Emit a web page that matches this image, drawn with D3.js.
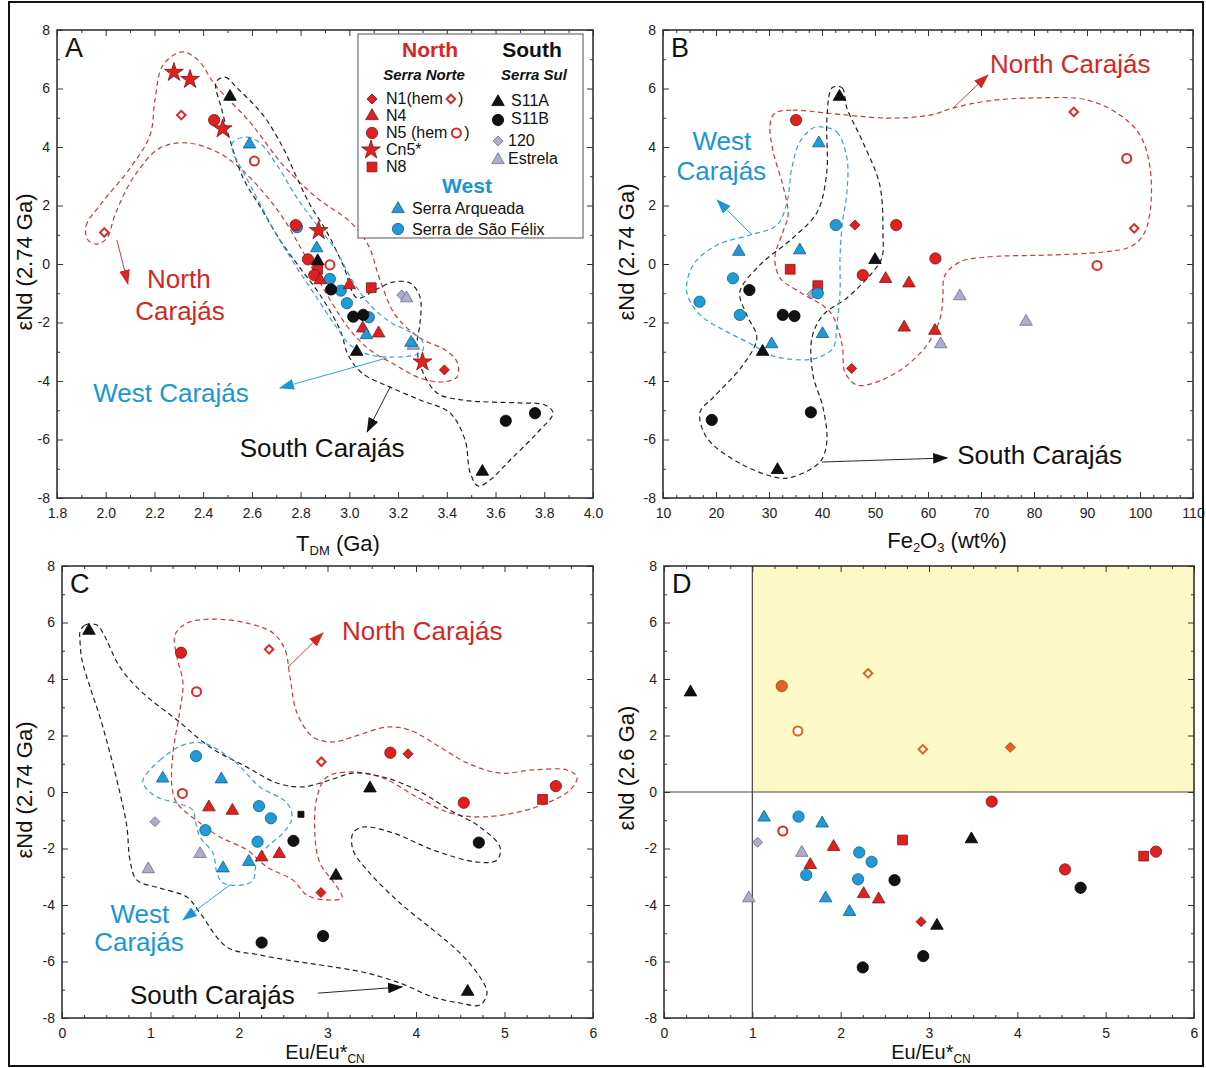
<!DOCTYPE html>
<html><head><meta charset="utf-8">
<script src="https://cdn.jsdelivr.net/npm/d3@7"></script>
<style>
body{margin:0;background:#fff}
svg{display:block}
text{font-family:"Liberation Sans",Arial,sans-serif}
</style>
</head><body>
<svg id="c" width="1206" height="1068"></svg>
<script>
// ---------------- DATA ----------------
// tick labels
const A_XTICKS=[1.8,2.0,2.2,2.4,2.6,2.8,3.0,3.2,3.4,3.6,3.8,4.0];
const B_XTICKS=[10,20,30,40,50,60,70,80,90,100,110];
const EU_XTICKS=[0,1,2,3,4,5,6];
const EPS_TICKS=[-8,-6,-4,-2,0,2,4,6,8];

// Panel A: eNd(2.74 Ga) vs TDM (Ga)
const A_N1=[[3.39,-3.62]];
const A_N1hem=[[2.31,5.09],[1.994,1.08]];
const A_N4=[[2.88,-0.55],[3.00,-0.72],[3.055,-2.20],[3.12,-2.37]];
const A_N5=[[2.445,4.92],[2.78,1.33],[2.83,0.16],[2.856,-0.38]];
const A_N5hem=[[2.61,3.52],[2.92,-0.03]];
const A_Cn5=[[2.28,6.55],[2.346,6.31],[2.48,4.62],[2.874,1.14],[3.30,-3.35]];
const A_N8=[[2.87,-0.18],[3.09,-0.81]];
const A_S11A=[[2.51,5.72],[2.87,0.10],[3.03,-3.0],[3.546,-7.1]];
const A_S11B=[[2.925,-0.87],[3.016,-1.80],[3.057,-1.74],[3.642,-5.36],[3.762,-5.10]];
const A_120=[[3.215,-1.06]];
const A_Estrela=[[3.235,-1.17],[3.263,-2.79]];
const A_SA=[[2.59,4.09],[2.866,0.54],[3.07,-2.43],[3.253,-2.69]];
const A_SSF=[[2.785,1.26],[2.92,-0.51],[2.965,-0.91],[2.99,-1.34],[3.08,-1.82]];
const A_envNorth=[[1.927,0.82],[1.919,1.30],[1.977,2.02],[2.10,3.28],[2.182,4.41],[2.202,5.61],[2.235,6.80],[2.313,7.25],[2.379,6.97],[2.449,6.12],[2.592,4.85],[2.728,3.38],[2.867,2.26],[3.003,1.44],[3.077,0.65],[3.126,-0.55],[3.188,-1.74],[3.29,-2.53],[3.393,-2.94],[3.442,-3.35],[3.442,-3.86],[3.385,-4.03],[3.29,-3.90],[3.188,-3.45],[3.085,-2.94],[3.003,-2.26],[2.921,-1.23],[2.81,0.41],[2.728,1.57],[2.646,2.46],[2.551,3.28],[2.457,3.83],[2.334,4.14],[2.223,3.97],[2.112,2.94],[2.038,1.68],[2.005,0.89],[1.964,0.68]];
const A_envSouth=[[2.453,6.22],[2.49,6.39],[2.539,6.02],[2.646,5.09],[2.728,3.97],[2.785,2.94],[2.839,2.02],[2.908,1.09],[2.974,-0.03],[3.032,-1.16],[3.105,-0.89],[3.179,-0.62],[3.249,-0.65],[3.29,-1.13],[3.29,-2.02],[3.278,-2.70],[3.29,-3.45],[3.36,-4.41],[3.467,-4.65],[3.578,-4.72],[3.70,-4.75],[3.803,-4.82],[3.836,-5.09],[3.77,-5.78],[3.66,-6.70],[3.578,-7.38],[3.528,-7.59],[3.495,-7.11],[3.475,-6.02],[3.413,-5.09],[3.29,-4.65],[3.167,-4.21],[3.052,-3.73],[2.995,-3.11],[2.962,-2.26],[2.88,-1.06],[2.798,-0.14],[2.715,0.82],[2.642,1.85],[2.564,2.94],[2.51,4.24],[2.477,5.26]];
const A_envWest=[[2.522,4.17],[2.58,4.34],[2.633,4.14],[2.703,3.38],[2.785,2.26],[2.867,1.33],[2.949,0.41],[3.011,-0.55],[3.085,-1.40],[3.167,-1.98],[3.249,-2.32],[3.298,-2.60],[3.302,-2.94],[3.27,-3.11],[3.188,-3.18],[3.085,-3.11],[3.003,-2.77],[2.941,-2.09],[2.859,-1.06],[2.777,-0.03],[2.695,1.09],[2.625,2.19],[2.564,3.15],[2.522,3.83]];

// Panel B: eNd(2.74 Ga) vs Fe2O3 (wt%)
const B_N1=[[46.2,1.33],[45.6,-3.57]];
const B_N1hem=[[87.5,5.2],[98.9,1.22]];
const B_N4=[[52.0,-0.51],[56.4,-0.66],[55.5,-2.17],[61.3,-2.28]];
const B_N5=[[35.1,4.92],[54.0,1.33],[61.4,0.19],[47.7,-0.38]];
const B_N5hem=[[97.5,3.61],[91.9,-0.05]];
const B_N8=[[34.0,-0.18],[39.2,-0.74]];
const B_S11A=[[43.3,5.72],[50.0,0.14],[28.8,-3.0],[31.6,-7.04]];
const B_S11B=[[26.3,-0.89],[32.6,-1.74],[34.8,-1.78],[37.9,-5.07],[19.2,-5.33]];
const B_120=[[38.1,-1.03]];
const B_Estrela=[[66.0,-1.1],[78.5,-1.97],[62.4,-2.74]];
const B_SA=[[39.4,4.13],[24.3,0.42],[35.8,0.47],[40.1,-2.39],[30.5,-2.74]];
const B_SSF=[[42.6,1.33],[23.2,-0.49],[39.2,-1.0],[16.9,-1.29],[24.5,-1.74]];
const B_envNorth=[[31.1,5.16],[34.5,5.26],[40.9,5.16],[52.3,4.99],[60.4,5.09],[64.7,5.33],[71.1,5.57],[80.6,5.68],[90.0,5.61],[96.2,5.09],[100.0,4.41],[101.9,3.28],[101.9,1.78],[100.6,0.99],[98.1,0.58],[93.0,0.41],[83.6,0.31],[71.1,0.24],[66.0,0.07],[63.2,-0.38],[62.8,-1.16],[62.3,-1.85],[59.8,-2.77],[55.3,-3.56],[50.4,-4.03],[46.6,-4.14],[44.3,-3.69],[43.8,-2.77],[41.5,-1.64],[35.8,-0.96],[32.1,-0.48],[31.1,0.21],[32.6,1.09],[33.6,1.68],[32.6,2.70],[30.8,3.83],[30.2,4.75]];
const B_envWest=[[40.2,4.68],[42.8,4.51],[44.7,3.62],[44.7,2.46],[43.8,1.33],[43.4,0.21],[43.4,-0.96],[42.8,-2.09],[42.1,-2.87],[39.1,-3.21],[35.8,-3.28],[30.2,-3.11],[27.0,-2.77],[22.1,-2.32],[17.0,-1.74],[14.5,-0.96],[15.7,-0.03],[20.2,0.65],[26.4,0.99],[31.5,1.33],[33.4,2.12],[34.3,3.28],[35.8,4.17],[38.3,4.65]];
const B_envSouth=[[42.1,6.05],[43.8,6.02],[44.7,5.33],[47.7,4.17],[50.9,2.70],[51.5,1.09],[51.3,0.21],[49.6,-0.27],[44.7,-1.16],[40.2,-1.74],[38.1,-2.53],[38.3,-3.79],[40.2,-4.92],[40.9,-6.09],[39.6,-6.77],[34.5,-7.28],[32.1,-7.32],[25.1,-6.87],[18.3,-5.95],[17.0,-5.06],[19.4,-4.58],[25.1,-3.45],[27.7,-2.53],[25.8,-1.74],[24.5,-0.96],[28.3,-0.03],[34.5,0.89],[39.1,1.78],[40.9,3.15],[40.9,4.85],[41.5,5.88]];

// Panel C: eNd(2.74 Ga) vs Eu/Eu*CN
const C_N1=[[3.91,1.35],[2.926,-3.56]];
const C_N1hem=[[2.34,5.05],[2.93,1.07]];
const C_N4=[[1.66,-0.54],[1.925,-0.66],[2.256,-2.31],[2.455,-2.19]];
const C_N5=[[1.345,4.93],[3.71,1.39],[5.58,0.21],[4.54,-0.38]];
const C_N5hem=[[1.52,3.55],[1.36,-0.05]];
const C_N8=[[5.43,-0.26]];
const C_S11A=[[0.305,5.71],[3.48,0.13],[3.096,-2.96],[4.584,-7.07]];
const C_S11B=[[2.615,-1.73],[4.71,-1.79],[2.256,-5.33],[2.95,-5.1]];
const C_other=[[2.70,-0.79]];
const C_120=[[1.05,-1.05]];
const C_Estrela=[[1.56,-2.19],[0.975,-2.73]];
const C_SA=[[1.138,0.48],[1.80,0.45],[2.11,-2.47],[1.82,-2.70]];
const C_SSF=[[1.514,1.27],[2.226,-0.5],[2.36,-0.93],[1.62,-1.35],[2.21,-1.76]];
const C_envNorth=[[1.277,5.56],[1.412,5.98],[1.706,6.12],[2.09,5.98],[2.384,5.63],[2.52,5.03],[2.576,4.07],[2.655,2.80],[2.836,1.95],[3.062,1.77],[3.288,1.95],[3.672,2.30],[3.932,2.19],[4.271,1.59],[4.576,1.03],[4.949,0.67],[5.322,0.78],[5.706,0.78],[5.819,0.53],[5.74,0.07],[5.322,-0.57],[4.757,-0.88],[4.384,-0.74],[4.011,-0.18],[3.627,0.50],[3.288,0.71],[2.994,0.53],[2.881,-0.18],[2.859,-1.59],[2.915,-2.51],[3.107,-3.36],[3.164,-3.75],[2.994,-3.82],[2.768,-3.65],[2.61,-3.12],[2.316,-2.65],[2.09,-2.05],[1.785,-1.59],[1.559,-1.10],[1.299,-0.39],[1.243,0.18],[1.254,1.38],[1.333,2.90],[1.367,3.86],[1.299,4.78]];
const C_envWest=[[0.915,0.42],[1.107,1.13],[1.367,1.66],[1.593,1.73],[1.932,1.13],[2.237,0.18],[2.542,-0.39],[2.599,-0.92],[2.497,-1.45],[2.316,-1.95],[2.203,-2.41],[2.158,-3.12],[2.045,-3.29],[1.819,-3.22],[1.751,-2.87],[1.706,-2.16],[1.559,-1.59],[1.503,-0.99],[1.48,-0.64],[1.299,-0.39],[1.073,-0.18],[0.938,0.18]];
const C_envSouth=[[0.203,5.66],[0.26,5.91],[0.395,5.91],[0.463,5.63],[0.655,4.42],[0.915,3.50],[1.299,2.55],[1.672,1.59],[2.09,0.88],[2.429,0.32],[2.723,0.18],[3.062,0.46],[3.288,0.67],[3.627,0.53],[4.011,0.07],[4.384,-0.64],[4.723,-1.24],[4.949,-1.95],[4.915,-2.41],[4.689,-2.48],[4.192,-2.05],[3.74,-1.45],[3.401,-1.24],[3.288,-1.45],[3.288,-2.05],[3.446,-2.76],[3.819,-3.93],[4.192,-4.88],[4.497,-5.70],[4.723,-6.55],[4.802,-7.12],[4.723,-7.54],[4.497,-7.47],[4.192,-7.26],[3.819,-6.76],[3.446,-6.41],[3.062,-6.19],[2.689,-6.02],[2.237,-5.77],[1.864,-5.49],[1.559,-4.28],[1.412,-3.72],[1.107,-3.40],[0.847,-3.12],[0.768,-2.41],[0.734,-1.24],[0.655,-0.04],[0.542,1.38],[0.429,2.65],[0.316,3.72],[0.226,4.67],[0.203,5.38]];

// Panel D: eNd(2.6 Ga) vs Eu/Eu*CN
const D_N1=[[2.91,-4.59]];
const D_N1orange=[[3.92,1.58]];
const D_N1hemOrange=[[2.31,4.2],[2.93,1.51]];
const D_N4=[[1.92,-1.94],[1.656,-2.58],[2.26,-3.61],[2.43,-3.80]];
const D_N5=[[3.71,-0.34],[5.57,-2.11],[4.54,-2.74]];
const D_N5orange=[[1.333,3.75]];
const D_N5hemOrange=[[1.515,2.16]];
const D_N5hem=[[1.345,-1.38]];
const D_N8=[[2.70,-1.70],[5.43,-2.27]];
const D_S11A=[[0.30,3.53],[3.48,-1.67],[3.09,-4.73]];
const D_S11B=[[2.61,-3.12],[4.716,-3.39],[2.935,-5.81],[2.25,-6.21]];
const D_120=[[1.06,-1.78]];
const D_Estrela=[[1.56,-2.15],[0.96,-3.76]];
const D_SA=[[1.133,-0.90],[1.79,-1.11],[1.83,-3.76],[2.10,-4.24]];
const D_SSF=[[1.523,-0.87],[2.21,-2.14],[2.35,-2.47],[1.61,-2.94],[2.197,-3.09]];
const D_field=[[1,0],[6,8]];

// ---------------- DRAWING ----------------
const svg=d3.select('#c');
const defs=svg.append('defs');
const COL={red:'#d42626',blue:'#1b95d3',black:'#111'};
const ENV={red:'#c43c3c',blue:'#38a0d2',black:'#222'};
Object.keys(COL).forEach(k=>{
  defs.append('marker').attr('id','ah-'+k).attr('viewBox','0 0 14 10').attr('refX',13).attr('refY',5)
    .attr('markerWidth',15).attr('markerHeight',11).attr('markerUnits','userSpaceOnUse').attr('orient','auto')
    .append('path').attr('d','M0,0L14,5L0,10Z').attr('fill',COL[k]);
});

const ST={
  red:{fill:'#e0201f',stroke:'#7a1616',sw:0.8},
  redOpen:{fill:'#fff',stroke:'#d92b2b',sw:2},
  black:{fill:'#111',stroke:'#000',sw:0.8},
  blue:{fill:'#1f9bd7',stroke:'#175c82',sw:0.8},
  gray:{fill:'#adadca',stroke:'#6e6e8c',sw:0.8},
  orange:{fill:'#e2621f',stroke:'#a8420f',sw:0.8},
  orangeOpen:{fill:'#fff',stroke:'#e2621f',sw:2}
};
const SH={
  circle:[d3.symbolCircle,100,0], circleOpen:[d3.symbolCircle,64,0],
  triangle:[d3.symbolTriangle,68,0], diamond:[d3.symbolSquare,50,45],
  diamondOpen:[d3.symbolSquare,36,45], square:[d3.symbolSquare,95,0],
  star:[d3.symbolStar,110,0], smallsquare:[d3.symbolSquare,36,0]
};
function drawSym(g,shape,style,px,py){
  const s=SH[shape], st=ST[style];
  g.append('path').attr('d',d3.symbol().type(s[0]).size(s[1])())
   .attr('transform',`translate(${px},${py}) rotate(${s[2]})`)
   .attr('fill',st.fill).attr('stroke',st.stroke).attr('stroke-width',st.sw);
}

function panel(p){
  const x=d3.scaleLinear().domain(p.xdom).range([p.L,p.R]);
  const y=d3.scaleLinear().domain([-8,8]).range([p.B,p.T]);
  const g=svg.append('g');
  if(p.field){
    const f=p.field;
    g.append('rect').attr('x',x(f[0][0])).attr('y',y(f[1][1])).attr('width',x(f[1][0])-x(f[0][0]))
     .attr('height',y(f[0][1])-y(f[1][1])).attr('fill','#fcf9c6');
    g.append('line').attr('x1',x(f[0][0])).attr('x2',x(f[0][0])).attr('y1',y(-8)).attr('y2',y(8)).attr('stroke','#444').attr('stroke-width',1.2);
    g.append('line').attr('x1',x(p.xdom[0])).attr('x2',x(p.xdom[1])).attr('y1',y(f[0][1])).attr('y2',y(f[0][1])).attr('stroke','#444').attr('stroke-width',1.2);
  }
  const line=d3.line().x(d=>x(d[0])).y(d=>y(d[1])).curve(d3.curveCatmullRomClosed.alpha(0.5));
  (p.env||[]).forEach(e=>{
    g.append('path').attr('d',line(e[0])).attr('fill','none').attr('stroke',ENV[e[1]])
     .attr('stroke-width',1.2).attr('stroke-dasharray','5,3.5');
  });
  (p.arrows||[]).forEach(a=>{
    g.append('line').attr('x1',x(a[0][0][0])).attr('y1',y(a[0][0][1])).attr('x2',x(a[0][1][0])).attr('y2',y(a[0][1][1]))
     .attr('stroke',COL[a[1]]).attr('stroke-width',0.9).attr('marker-end',`url(#ah-${a[1]})`);
  });
  (p.labels||[]).forEach(l=>{
    g.append('text').attr('x',x(l.at[0])).attr('y',y(l.at[1])).attr('text-anchor',l.anchor)
     .attr('font-size',26).attr('fill',COL[l.c]).text(l.t);
  });
  p.series.forEach(s=>{
    s[0].forEach(d=>drawSym(g,s[1],s[2],x(d[0]),y(d[1])));
  });
  // axes (ticks inward on all sides)
  function ax(gen,tr,vals,size,fmt){
    const a=g.append('g').attr('transform',tr)
      .call(gen.tickValues(vals).tickSize(size).tickPadding(fmt?p.pad:0).tickFormat(fmt||(()=>'')));
    a.select('.domain').remove();
    a.selectAll('line').attr('stroke','#333').attr('stroke-width',1);
    a.attr('font-size',14).attr('font-family','"Liberation Sans",Arial,sans-serif');
    a.selectAll('text').attr('fill','#222');
    return a;
  }
  ax(d3.axisBottom(x),`translate(0,${p.B})`,p.xt,-6,p.fmt);
  ax(d3.axisBottom(x),`translate(0,${p.B})`,p.xminor,-3,null);
  ax(d3.axisTop(x),`translate(0,${p.T})`,p.xt,-6,null);
  ax(d3.axisTop(x),`translate(0,${p.T})`,p.xminor,-3,null);
  const yl=ax(d3.axisLeft(y),`translate(${p.L},0)`,EPS_TICKS,-6,d=>String(d));
  yl.selectAll('text').attr('x',-7);
  ax(d3.axisLeft(y),`translate(${p.L},0)`,p.yminor,-3,null);
  ax(d3.axisRight(y),`translate(${p.R},0)`,EPS_TICKS,-6,null);
  ax(d3.axisRight(y),`translate(${p.R},0)`,p.yminor,-3,null);
  g.append('rect').attr('x',p.L).attr('y',p.T).attr('width',p.R-p.L).attr('height',p.B-p.T)
   .attr('fill','none').attr('stroke','#333').attr('stroke-width',1.6);
  g.append('text').attr('x',p.L+8).attr('y',p.T+27).attr('font-size',27).attr('fill','#111').text(p.id);
  // titles
  const fs=p.xtitle[3]||22;
  const xt=g.append('text').attr('x',p.xtitle[0]).attr('y',p.xtitle[1]).attr('text-anchor','middle').attr('font-size',fs).attr('fill','#111');
  p.xtitle[2].forEach(t=>{
    const ts=xt.append('tspan').text(t[0]);
    if(t[1]==='sub') ts.attr('font-size',Math.round(fs*0.6)).attr('dy',4);
    if(t[1]==='up') ts.attr('dy',-4);
  });
  g.append('text').attr('transform',`translate(${p.ytitle[0]},${p.ytitle[1]}) rotate(-90)`)
   .attr('text-anchor','middle').attr('font-size',22).attr('fill','#111').text(p.ytitle[2]);
  return {x,y};
}

const yMinor=[-7,-5,-3,-1,1,3,5,7];
const euMinor=d3.range(0,6.001,0.25).filter(v=>Math.abs(v-Math.round(v))>1e-6);
const fmtInt=d=>String(d);

function seriesList(P){
  return [
    [P.s120||[],'diamond','gray'],[P.Estrela||[],'triangle','gray'],
    [P.N8||[],'square','red'],[P.SSF||[],'circle','blue'],[P.S11B||[],'circle','black'],
    [P.N5||[],'circle','red'],[P.N5hem||[],'circleOpen','redOpen'],[P.N4||[],'triangle','red'],
    [P.Cn5||[],'star','red'],[P.S11A||[],'triangle','black'],[P.SA||[],'triangle','blue'],
    [P.N1||[],'diamond','red'],[P.N1hem||[],'diamondOpen','redOpen'],
    [P.other||[],'smallsquare','black'],
    [P.N1o||[],'diamond','orange'],[P.N1ho||[],'diamondOpen','orangeOpen'],
    [P.N5o||[],'circle','orange'],[P.N5ho||[],'circleOpen','orangeOpen']
  ];
}

// Panel A
panel({id:'A',L:57,R:593,T:30,B:498,xdom:[1.8,4.0],xt:A_XTICKS,
  xminor:d3.range(19,40,2).map(v=>v/10),yminor:yMinor,fmt:d=>d.toFixed(1),pad:10,
  series:seriesList({s120:A_120,Estrela:A_Estrela,N8:A_N8,SSF:A_SSF,S11B:A_S11B,N5:A_N5,N5hem:A_N5hem,N4:A_N4,Cn5:A_Cn5,S11A:A_S11A,SA:A_SA,N1:A_N1,N1hem:A_N1hem}),
  env:[[A_envNorth,'red'],[A_envSouth,'black'],[A_envWest,'blue']],
  arrows:[[[[2.046,0.82],[2.091,-0.68]],'red'],[[[3.155,-3.21],[2.715,-4.24]],'blue'],[[[3.167,-4.21],[3.073,-5.74]],'black']],
  labels:[{t:'North',at:[2.30,-0.82],c:'red',anchor:'middle'},{t:'Carajás',at:[2.305,-1.91],c:'red',anchor:'middle'},
          {t:'West Carajás',at:[2.268,-4.72],c:'blue',anchor:'middle'},{t:'South Carajás',at:[2.888,-6.6],c:'black',anchor:'middle'}],
  xtitle:[338,551,[['T'],['DM','sub'],[' (Ga)','up']],22],ytitle:[32,262,'εNd (2.74 Ga)']});

// Panel B
panel({id:'B',L:663,R:1193,T:30,B:498,xdom:[10,110],xt:B_XTICKS,
  xminor:d3.range(10,110.01,2.5).filter(v=>v%10!==0),yminor:yMinor,fmt:fmtInt,pad:10,
  series:seriesList({s120:B_120,Estrela:B_Estrela,N8:B_N8,SSF:B_SSF,S11B:B_S11B,N5:B_N5,N5hem:B_N5hem,N4:B_N4,S11A:B_S11A,SA:B_SA,N1:B_N1,N1hem:B_N1hem}),
  env:[[B_envNorth,'red'],[B_envSouth,'black'],[B_envWest,'blue']],
  arrows:[[[[64.7,5.33],[71.3,6.46]],'red'],[[[26.8,0.99],[20.2,2.19]],'blue'],[[[40.0,-6.77],[63.6,-6.63]],'black']],
  labels:[{t:'North Carajás',at:[71.7,6.53],c:'red',anchor:'start'},{t:'West',at:[21.1,3.90],c:'blue',anchor:'middle'},
          {t:'Carajás',at:[21.0,2.87],c:'blue',anchor:'middle'},{t:'South Carajás',at:[65.5,-6.84],c:'black',anchor:'start'}],
  xtitle:[947,548,[['Fe'],['2','sub'],['O','up'],['3','sub'],[' (wt%)','up']],22],ytitle:[634,252,'εNd (2.74 Ga)']});

// Panel C
panel({id:'C',L:62,R:593,T:566,B:1018,xdom:[0,6],xt:EU_XTICKS,
  xminor:euMinor,yminor:yMinor,fmt:fmtInt,pad:10,
  series:seriesList({s120:C_120,Estrela:C_Estrela,N8:C_N8,SSF:C_SSF,S11B:C_S11B,N5:C_N5,N5hem:C_N5hem,N4:C_N4,S11A:C_S11A,SA:C_SA,N1:C_N1,N1hem:C_N1hem,other:C_other}),
  env:[[C_envNorth,'red'],[C_envSouth,'black'],[C_envWest,'blue']],
  arrows:[[[[2.554,4.42],[2.949,5.63]],'red'],[[[1.898,-3.29],[1.367,-4.53]],'blue'],[[[2.893,-7.12],[3.842,-6.90]],'black']],
  labels:[{t:'North Carajás',at:[3.164,5.38],c:'red',anchor:'start'},{t:'West',at:[0.88,-4.64],c:'blue',anchor:'middle'},
          {t:'Carajás',at:[0.87,-5.63],c:'blue',anchor:'middle'},{t:'South Carajás',at:[0.768,-7.50],c:'black',anchor:'start'}],
  xtitle:[325,1059,[['Eu/Eu*'],['CN','sub']],20],ytitle:[32,790,'εNd (2.74 Ga)']});

// Panel D
panel({id:'D',L:664,R:1194,T:566,B:1018,xdom:[0,6],xt:EU_XTICKS,field:D_field,
  xminor:euMinor,yminor:yMinor,fmt:fmtInt,pad:10,
  series:seriesList({s120:D_120,Estrela:D_Estrela,N8:D_N8,SSF:D_SSF,S11B:D_S11B,N5:D_N5,N5hem:D_N5hem,N4:D_N4,S11A:D_S11A,SA:D_SA,N1:D_N1,N1o:D_N1orange,N1ho:D_N1hemOrange,N5o:D_N5orange,N5ho:D_N5hemOrange}),
  xtitle:[931,1059,[['Eu/Eu*'],['CN','sub']],20],ytitle:[634,768,'εNd (2.6 Ga)']});

// Legend (panel A)
const lg=svg.append('g');
lg.append('rect').attr('x',358).attr('y',34).attr('width',225).attr('height',204).attr('fill','#fff').attr('stroke','#555').attr('stroke-width',1);
function lt(x,y,t,o){const e=lg.append('text').attr('x',x).attr('y',y).attr('font-size',o.fs||16).attr('fill',o.c||'#111').attr('text-anchor',o.a||'start').text(t);
  if(o.b)e.attr('font-weight','bold'); if(o.i)e.attr('font-style','italic'); return e;}
lt(430,57,'North',{fs:21,b:1,c:COL.red,a:'middle'});
lt(532,57,'South',{fs:21,b:1,a:'middle'});
lt(424,80,'Serra Norte',{fs:15,b:1,i:1,a:'middle'});
lt(534,80,'Serra Sul',{fs:15,b:1,i:1,a:'middle'});
// left column
const t1=lt(386,104,'N1(hem',{});
drawSym(lg,'diamond','red',372,99);
const w1=t1.node().getComputedTextLength();
drawSym(lg,'diamondOpen','redOpen',386+w1+8,99); lt(386+w1+15,104,')',{});
drawSym(lg,'triangle','red',372,116); lt(386,121,'N4',{});
drawSym(lg,'circle','red',372,133);
const t3=lt(386,138,'N5 (hem',{}); const w3=t3.node().getComputedTextLength();
drawSym(lg,'circleOpen','redOpen',386+w3+9,133); lt(386+w3+17,138,')',{});
drawSym(lg,'star','red',371,150); lt(386,155,'Cn5*',{});
drawSym(lg,'square','red',372,167); lt(386,172,'N8',{});
// right column
drawSym(lg,'triangle','black',498,102); lt(511,106,'S11A',{});
drawSym(lg,'circle','black',498,120); lt(511,124,'S11B',{});
drawSym(lg,'diamond','gray',498,141); lt(508,146,'120',{});
drawSym(lg,'triangle','gray',498,160); lt(508,164,'Estrela',{});
lt(467,193,'West',{fs:21,b:1,c:COL.blue,a:'middle'});
drawSym(lg,'triangle','blue',398,209); lt(412,214,'Serra Arqueada',{});
drawSym(lg,'circle','blue',398,229); lt(412,235,'Serra de São Félix',{});

// outer figure border
svg.append('rect').attr('x',9).attr('y',2).attr('width',1194).attr('height',1064).attr('fill','none').attr('stroke','#111').attr('stroke-width',2);
</script>
</body></html>
